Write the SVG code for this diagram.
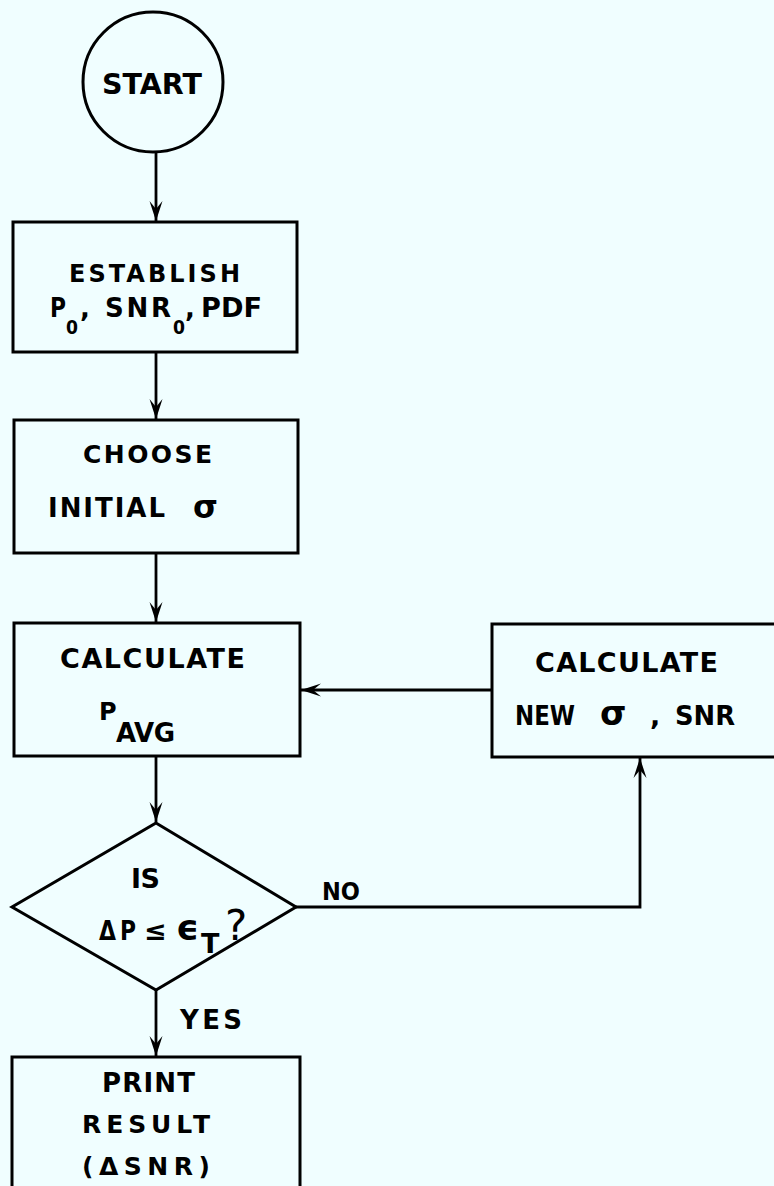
<svg xmlns="http://www.w3.org/2000/svg" width="774" height="1186" viewBox="0 0 774 1186">
<defs>
<style>
.sh{fill:none;stroke:#000;stroke-width:3;stroke-linejoin:miter}
.cn{fill:none;stroke:#000;stroke-width:2.8}
text{font-family:"DejaVu Sans","Liberation Sans",sans-serif;font-weight:bold;fill:#000}
.t{font-size:26px}
.b{font-size:27px}
.p{font-size:26px}
.sb{font-size:19px}
.sg{font-size:34px;font-weight:bold}
</style>
<marker id="ah" viewBox="-21 -8 22 16" refX="0" refY="0" markerWidth="22" markerHeight="16" markerUnits="userSpaceOnUse" orient="auto">
<path d="M0,0 L-20,-6.5 L-12,0 L-20,6.5 Z" fill="#000"/>
</marker>
</defs>
<rect width="774" height="1186" fill="#F0FEFF"/>
<g id="connectors">
<line class="cn" x1="156" y1="153" x2="156" y2="221" marker-end="url(#ah)"/>
<line class="cn" x1="156" y1="352" x2="156" y2="419" marker-end="url(#ah)"/>
<line class="cn" x1="156" y1="553" x2="156" y2="622" marker-end="url(#ah)"/>
<line class="cn" x1="156" y1="756" x2="156" y2="822" marker-end="url(#ah)"/>
<line class="cn" x1="156" y1="990" x2="156" y2="1056" marker-end="url(#ah)"/>
<line class="cn" x1="492" y1="690" x2="301" y2="690" marker-end="url(#ah)"/>
<path class="cn" d="M296,907 H640 V758" marker-end="url(#ah)"/>
<text x="322" y="900" style="font-size:25px" textLength="38" lengthAdjust="spacingAndGlyphs">NO</text>
<text x="180" y="1029" class="t" textLength="62" lengthAdjust="spacing">YES</text>
</g>
<g id="start">
<circle class="sh" cx="153" cy="82" r="70"/>
<text x="102" y="94" font-size="29" textLength="100" lengthAdjust="spacingAndGlyphs">START</text>
</g>
<g id="establish">
<rect class="sh" x="13" y="222" width="284" height="130"/>
<text x="69" y="282" style="font-size:24px" textLength="171" lengthAdjust="spacing">ESTABLISH</text>
<text x="50" y="317" class="p" textLength="16" lengthAdjust="spacingAndGlyphs">P</text>
<text x="66" y="334" class="sb" textLength="12" lengthAdjust="spacingAndGlyphs">0</text>
<text x="80" y="317" class="p">,</text>
<text x="105" y="317" class="p" textLength="66" lengthAdjust="spacing">SNR</text>
<text x="173" y="334" class="sb" textLength="12" lengthAdjust="spacingAndGlyphs">0</text>
<text x="185" y="317" class="p">,</text>
<text x="201" y="317" class="p" textLength="61" lengthAdjust="spacingAndGlyphs">PDF</text>
</g>
<g id="choose">
<rect class="sh" x="14" y="420" width="284" height="133"/>
<text x="83" y="463" style="font-size:25px" textLength="129" lengthAdjust="spacing">CHOOSE</text>
<text x="48" y="517" class="t" textLength="117" lengthAdjust="spacing">INITIAL</text>
<text x="193" y="518" class="sg" style="font-size:32px">σ</text>
</g>
<g id="calc-pavg">
<rect class="sh" x="14" y="623" width="286" height="133"/>
<text x="60" y="668" class="b" textLength="185" lengthAdjust="spacing">CALCULATE</text>
<text x="99" y="720" style="font-size:24px">P</text>
<text x="116" y="742" class="t" textLength="59" lengthAdjust="spacing">AVG</text>
</g>
<g id="calc-new">
<rect class="sh" x="492" y="624" width="290" height="133"/>
<text x="535" y="672" class="b" textLength="183" lengthAdjust="spacing">CALCULATE</text>
<text x="515" y="725" class="b" textLength="60" lengthAdjust="spacingAndGlyphs">NEW</text>
<text x="600" y="725" class="sg">σ</text>
<text x="650" y="725" class="b">,</text>
<text x="675" y="725" class="b" textLength="60" lengthAdjust="spacingAndGlyphs">SNR</text>
</g>
<g id="decision">
<polygon class="sh" points="156,823 296,907 156,990 12,907"/>
<text x="131" y="888" class="b" textLength="29" lengthAdjust="spacing">IS</text>
<text x="99" y="940" class="b" textLength="17" lengthAdjust="spacingAndGlyphs">Δ</text>
<text x="120" y="940" class="b" textLength="16" lengthAdjust="spacingAndGlyphs">P</text>
<text x="144" y="940" class="b">≤</text>
<text x="176" y="940" style="font-size:36px">ϵ</text>
<text x="201" y="953" class="b">T</text>
<text x="225" y="940" style="font-size:42px;font-weight:normal">?</text>
</g>
<g id="print">
<rect class="sh" x="12" y="1057" width="288" height="150"/>
<text x="102" y="1092" class="t" textLength="93" lengthAdjust="spacing">PRINT</text>
<text x="82" y="1133" style="font-size:25px" textLength="128" lengthAdjust="spacing">RESULT</text>
<text x="82" y="1175" style="font-size:25px" textLength="128" lengthAdjust="spacing">(ΔSNR)</text>
</g>
</svg>
